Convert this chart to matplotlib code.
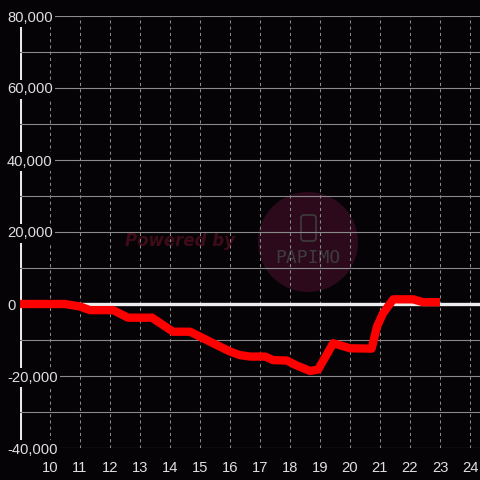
import matplotlib
matplotlib.use("Agg")
import matplotlib.pyplot as plt
from matplotlib.patches import Circle, FancyBboxPatch
from matplotlib.ticker import FuncFormatter

# data (hour of day, cumulative balance)
hours = [9, 10.5, 11, 11.33, 12.1, 12.6, 13.4, 14.1, 14.67, 15.1, 15.56, 16.0,
         16.33, 16.67, 17.17, 17.44, 17.89, 18.2, 18.67, 18.94, 19.44, 20.0,
         20.72, 20.9, 21.1, 21.44, 22.1, 22.44, 23.0]
values = [0, 0, -700, -1700, -1700, -3800, -3800, -7700, -7700, -9500, -11400,
          -13200, -14200, -14600, -14600, -15600, -15700, -17000, -18600,
          -18200, -10900, -12300, -12400, -6300, -2600, 1300, 1300, 500, 500]
x_ticks = list(range(10, 25))
y_major = [-40000, -20000, 0, 20000, 40000, 60000, 80000]
y_minor = [-30000, -10000, 10000, 30000, 50000, 70000]

BG = "#050305"
TXT = "#e0e0e0"
GRID = "#8a8a8a"

fig = plt.figure(figsize=(4.8, 4.8), dpi=100, facecolor=BG)
ax = fig.add_axes([20/480, 32/480, 460/480, 432/480], facecolor=BG)
ax.set_xlim(9, 9 + 460/30)
ax.set_ylim(-40000, 80000)

for s in ax.spines.values():
    s.set_visible(False)

ax.set_axisbelow(False)
ax.set_xticks(x_ticks)
ax.set_yticks(y_major)
ax.set_yticks(y_minor, minor=True)
ax.yaxis.set_major_formatter(FuncFormatter(lambda v, p: f"{int(v):,}"))

ax.tick_params(axis="both", length=0, colors=TXT, labelsize=10.6)
ax.tick_params(axis="x", pad=9)
ax.tick_params(axis="y", which="major", pad=9.4)
for lab in ax.get_xticklabels() + ax.get_yticklabels():
    lab.set_fontfamily("Liberation Sans")

ax.grid(axis="y", which="both", color=GRID, linewidth=0.8, linestyle="-")
ax.grid(axis="x", which="major", color=GRID, linewidth=0.75, linestyle=(0, (3, 3)))

ax.axhline(0, color="#eeeeee", linewidth=2.4, zorder=2.7)
ax.axvline(9, color="#e8e8e8", linewidth=2.2, zorder=2)

# watermark
circ = Circle((308/480, 1 - 242/480), 50/480, transform=fig.transFigure,
              facecolor="#2c0a1c", edgecolor="none", zorder=1)
ax.add_patch(circ)
ax.text(180/480, 1 - 241/480, "Powered by", transform=fig.transFigure,
        ha="center", va="center", fontsize=12, fontweight="bold",
        fontstyle="italic", color="#3e0c18", zorder=1)
ax.text(308/480, 1 - 258/480, "PAPIMO", transform=fig.transFigure,
        ha="center", va="center", fontsize=13, family="DejaVu Sans Mono",
        color="#3c3c3c", zorder=1)
phone = FancyBboxPatch((301/480, 1 - 241/480), 15/480, 26/480,
                       boxstyle="round,pad=0,rounding_size=0.006",
                       transform=fig.transFigure, facecolor="none",
                       edgecolor="#3c3c3c", linewidth=1.2, zorder=1)
ax.add_patch(phone)

ax.plot(hours, values, color="#ff0000", linewidth=6, solid_joinstyle="round",
        solid_capstyle="butt", zorder=3)

for t in ax.yaxis.get_major_ticks():
    t.label1.set_horizontalalignment("left")
    t.label1.set_bbox(dict(facecolor=BG, edgecolor="none", pad=1.5))

fig.savefig("out.png", dpi=100, facecolor=BG)
